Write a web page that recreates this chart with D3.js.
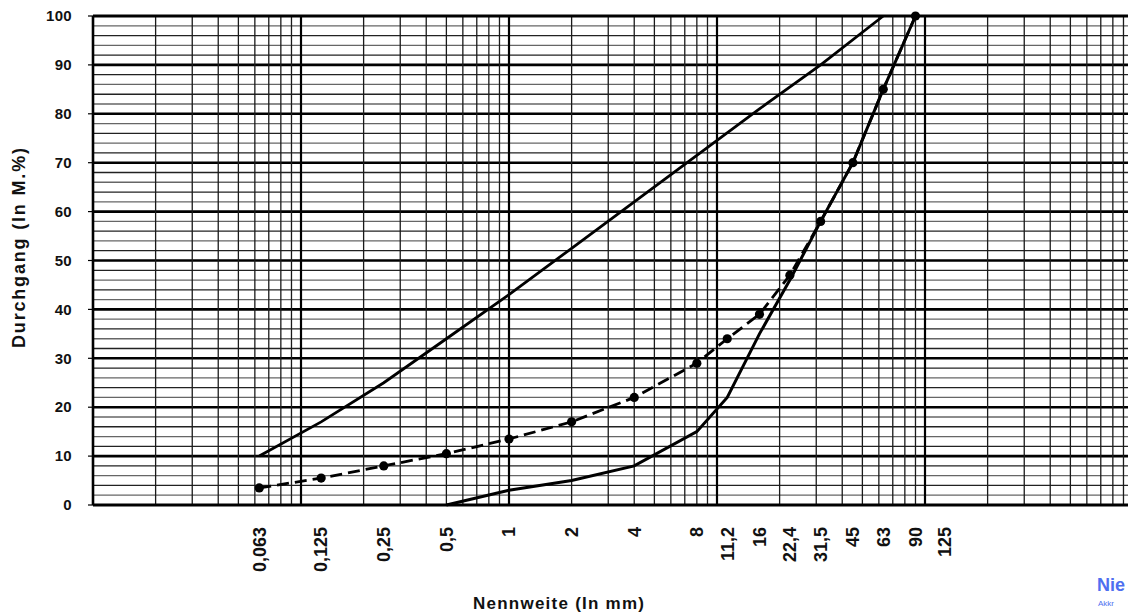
<!DOCTYPE html>
<html lang="de">
<head>
    <meta charset="utf-8" />
    <title> Sieblinie </title>
    <script src="https://cdn.jsdelivr.net/npm/d3@7"></script>
    <style>
        body { margin: 0px; background: #fff; }
        svg text { font-family: "Liberation Sans", Arial, sans-serif; font-weight: bold; fill: #111; }
    </style>
</head>
<body>

<svg id="chart" width="1128" height="614"></svg>

<script>

    // Siebweiten (mm) und Beschriftungen der x-Achse
    var sieveSizes  = [0.063, 0.125, 0.25, 0.5, 1, 2, 4, 8, 11.2, 16, 22.4, 31.5, 45, 63, 90, 125];
    var sieveLabels = ["0,063", "0,125", "0,25", "0,5", "1", "2", "4", "8", "11,2", "16", "22,4", "31,5", "45", "63", "90", "125"];

    var yTicks = [0, 10, 20, 30, 40, 50, 60, 70, 80, 90, 100];

    // gemessene Sieblinie (gestrichelt mit Punkten)
    var measuredSizes = [0.063, 0.125, 0.25, 0.5, 1, 2, 4, 8, 11.2, 16, 22.4, 31.5, 45, 63, 90];
    var measuredPass  = [3.5, 5.5, 8, 10.5, 13.5, 17, 22, 29, 34, 39, 47, 58, 70, 85, 100];

    // obere Grenzlinie
    var upperSizes = [0.063, 0.125, 0.25, 0.5, 1, 2, 4, 8, 16, 31.5, 63];
    var upperPass  = [10, 17, 25, 34, 43, 52.5, 62, 71.5, 81, 90, 100];

    // untere Grenzlinie
    var lowerSizes = [0.5, 1, 2, 4, 8, 11.2, 16, 22.4, 31.5, 45, 63, 90];
    var lowerPass  = [0, 3, 5, 8, 15, 22, 35, 46, 58, 70, 85, 100];

    function main() {

        var svg = d3.select('#chart');

        var x = d3.scaleLog().domain([0.01, 1000]).range([93, 1133]);
        var y = d3.scaleLinear().domain([0, 100]).range([505, 16]);

        var grid = svg.append('g').attr('class', 'grid');

        // waagerechte Linien alle 2 %
        for (var p = 2; p < 100; p += 2) {
            var major = (p % 10 === 0);
            grid.append('line')
                .attr('x1', x(0.01)).attr('x2', 1128)
                .attr('y1', y(p)).attr('y2', y(p))
                .style('stroke', major ? '#000' : (p % 4 === 0 ? '#222' : '#666'))
                .style('stroke-width', major ? 2.6 : 1.3);
        }

        // senkrechte log-Linien
        var decades = [0.01, 0.1, 1, 10, 100];
        decades.forEach(function(d) {
            for (var k = 1; k <= 9; k++) {
                var v = d * k;
                if (v <= 0.01) continue;
                grid.append('line')
                    .attr('x1', x(v)).attr('x2', x(v))
                    .attr('y1', y(0)).attr('y2', y(100))
                    .style('stroke', k === 1 ? '#000' : '#1a1a1a')
                    .style('stroke-width', k === 1 ? 2.2 : 1.3);
            }
        });

        // Rahmen
        var frame = svg.append('g');
        frame.append('line')
            .attr('x1', x(0.01)).attr('x2', 1128)
            .attr('y1', y(100)).attr('y2', y(100))
            .style('stroke', '#000').style('stroke-width', 3);
        frame.append('line')
            .attr('x1', x(0.01)).attr('x2', 1128)
            .attr('y1', y(0)).attr('y2', y(0))
            .style('stroke', '#000').style('stroke-width', 3);
        frame.append('line')
            .attr('x1', x(0.01)).attr('x2', x(0.01))
            .attr('y1', y(0)).attr('y2', y(100))
            .style('stroke', '#000').style('stroke-width', 2.6);

        // y-Achse
        var yAxis = svg.append('g');
        yTicks.forEach(function(t) {
            yAxis.append('line')
                .attr('x1', x(0.01) - 5).attr('x2', x(0.01))
                .attr('y1', y(t)).attr('y2', y(t))
                .style('stroke', '#000').style('stroke-width', 1.2);
            yAxis.append('text')
                .attr('x', 72).attr('y', y(t))
                .attr('dy', '0.35em')
                .attr('text-anchor', 'end')
                .style('font-size', '15px')
                .style('letter-spacing', '0.3px')
                .text(t);
        });

        // x-Achse (senkrechte Beschriftung)
        var xAxis = svg.append('g');
        sieveSizes.forEach(function(s, i) {
            xAxis.append('text')
                .attr('transform', 'translate(' + x(s) + ',527) rotate(-90)')
                .attr('dy', '0.35em')
                .attr('text-anchor', 'end')
                .style('font-size', '18px')
                .text(sieveLabels[i]);
        });

        // Achsentitel
        svg.append('text')
            .attr('transform', 'translate(19,248) rotate(-90)')
            .attr('dy', '0.35em')
            .attr('text-anchor', 'middle')
            .attr('textLength', 200)
            .attr('lengthAdjust', 'spacing')
            .style('font-size', '18px')
            .text('Durchgang (In M.%)');

        svg.append('text')
            .attr('x', 473).attr('y', 609)
            .attr('textLength', 171)
            .attr('lengthAdjust', 'spacing')
            .style('font-size', '17px')
            .text('Nennweite (In mm)');

        // Kurven
        var line = d3.line()
            .x(function(d) { return x(d[0]); })
            .y(function(d) { return y(d[1]); });

        var curves = svg.append('g');

        curves.append('path')
            .datum(d3.zip(upperSizes, upperPass))
            .attr('d', line)
            .style('fill', 'none').style('stroke', '#000').style('stroke-width', 2.8);

        curves.append('path')
            .datum(d3.zip(lowerSizes, lowerPass))
            .attr('d', line)
            .style('fill', 'none').style('stroke', '#000').style('stroke-width', 3);

        var measured = d3.zip(measuredSizes, measuredPass);

        curves.append('path')
            .datum(measured)
            .attr('d', line)
            .style('fill', 'none').style('stroke', '#000').style('stroke-width', 2.8)
            .style('stroke-dasharray', '12,6');

        curves.selectAll('circle')
            .data(measured)
            .enter().append('circle')
            .attr('cx', function(d) { return x(d[0]); })
            .attr('cy', function(d) { return y(d[1]); })
            .attr('r', 4.6)
            .style('fill', '#000');

        // Logo-Rest unten rechts (abgeschnitten)
        svg.append('text')
            .attr('x', 1097).attr('y', 591)
            .style('font-size', '18px')
            .style('fill', '#4f6ff0')
            .text('Nie');
        svg.append('text')
            .attr('x', 1098).attr('y', 606)
            .style('font-size', '8px')
            .style('font-weight', 'normal')
            .style('fill', '#4f6ff0')
            .text('Akkr');
    }

    main();

</script>

</body>
</html>
